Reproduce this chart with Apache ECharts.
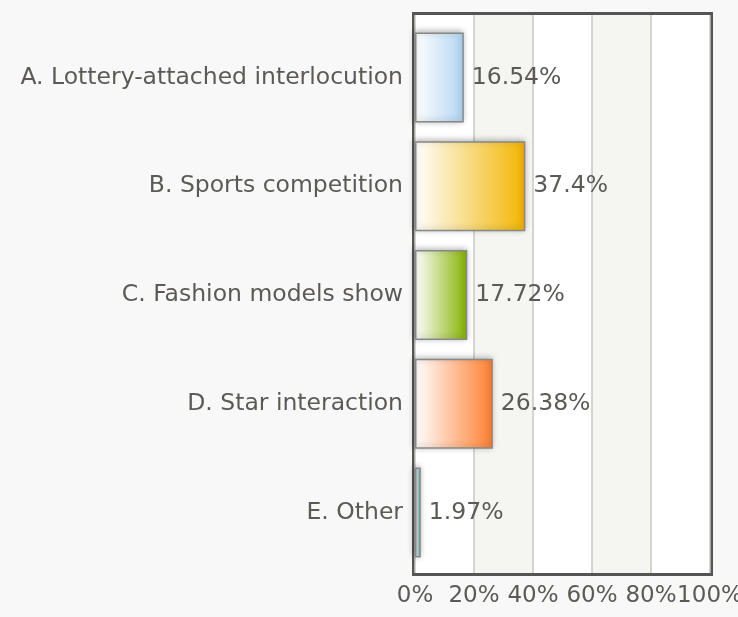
<!DOCTYPE html>
<html>
<head>
<meta charset="utf-8">
<script src="https://cdn.jsdelivr.net/npm/echarts@6/dist/echarts.min.js"></script>
<style>
  html, body { margin: 0; padding: 0; background: #f8f8f8; }
  #main { width: 738px; height: 617px; }
</style>
</head>
<body>
<div id="main"></div>
<script>
var categories = ['A. Lottery-attached interlocution', 'B. Sports competition', 'C. Fashion models show', 'D. Star interaction', 'E. Other'];
var values = [16.54, 37.4, 17.72, 26.38, 1.97];
var barColors = ['#b3d5f3', '#f2b600', '#86b300', '#ff8030', '#5fb0b0'];
var tickMax = 100;
var tickStep = 20;

var chart = echarts.init(document.getElementById('main'), null, { renderer: 'canvas' });

var fontFamily = '"DejaVu Sans", Verdana, sans-serif';
var textColor = '#5c5a57';

var barData = [];
for (var i = 0; i < values.length; i++) {
  barData.push({
    value: values[i],
    itemStyle: {
      color: {
        type: 'linear', x: 0, y: 0, x2: 1, y2: 0,
        colorStops: [
          { offset: 0, color: '#ffffff' },
          { offset: 1, color: barColors[i] }
        ]
      }
    }
  });
}

var option = {
  backgroundColor: '#f8f8f8',
  animation: false,
  grid: [
    // frame + stripes
    { left: 415, right: 28, top: 15, bottom: 44, outerBoundsMode: 'none', show: true, borderColor: '#555', borderWidth: 6, backgroundColor: '#fff' },
    // bars
    { left: 415, right: 28, top: 23, bottom: 50, outerBoundsMode: 'none' }
  ],
  xAxis: [{
    gridIndex: 0,
    type: 'value',
    min: 0,
    max: tickMax,
    interval: tickStep,
    axisLine: { show: false },
    axisTick: { show: false },
    axisLabel: {
      formatter: '{value}%',
      color: textColor,
      fontFamily: fontFamily,
      fontSize: 23,
      margin: 12
    },
    splitLine: { show: true, lineStyle: { color: '#c8c8c0', width: 1.5 } },
    splitArea: { show: true, areaStyle: { color: ['#ffffff', '#f5f6f1'] } }
  }, {
    gridIndex: 1,
    type: 'value',
    min: 0,
    max: tickMax,
    show: false
  }],
  yAxis: [{
    gridIndex: 0,
    type: 'value',
    show: false
  }, {
    gridIndex: 1,
    type: 'category',
    inverse: true,
    data: categories,
    axisLine: { show: false },
    axisTick: { show: false },
    axisLabel: {
      color: textColor,
      fontFamily: fontFamily,
      fontSize: 23.5,
      margin: 12
    }
  }],
  series: [{
    type: 'bar',
    xAxisIndex: 1,
    yAxisIndex: 1,
    data: barData,
    barWidth: 90,
    itemStyle: {
      borderColor: '#888',
      borderWidth: 1.5,
      shadowColor: 'rgba(0,0,0,0.3)',
      shadowBlur: 6,
      shadowOffsetX: -1,
      shadowOffsetY: -1
    },
    label: {
      show: true,
      position: 'right',
      distance: 8,
      formatter: '{c}%',
      color: textColor,
      fontFamily: fontFamily,
      fontSize: 23.5
    }
  }]
};

chart.setOption(option);
</script>
</body>
</html>
